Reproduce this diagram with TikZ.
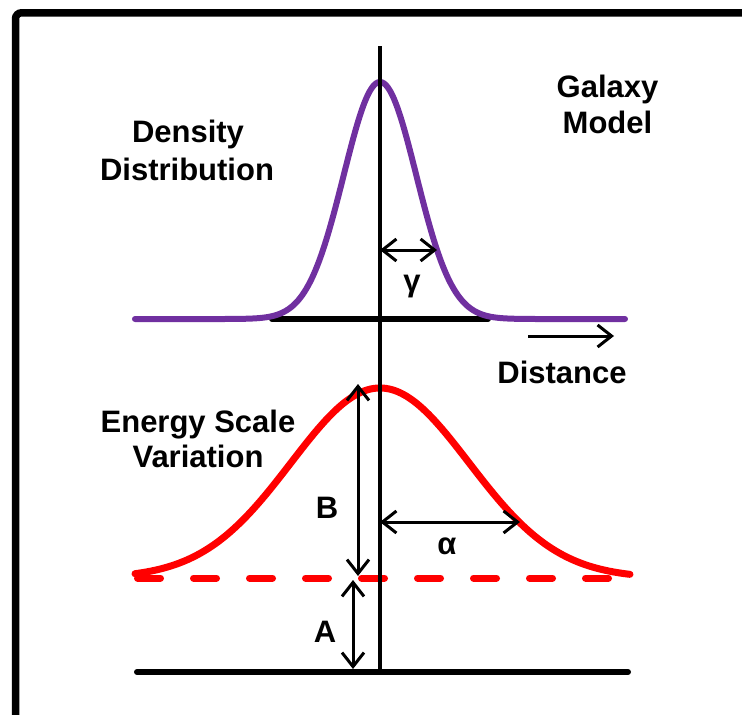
\documentclass[tikz,border=0pt]{standalone}
\usepackage{fontspec}
\setmainfont{Liberation Sans}
\usetikzlibrary{arrows.meta}
\definecolor{galpurple}{HTML}{7030A0}
\begin{document}
\begin{tikzpicture}[x=1pt,y=-1pt,
  lbl/.style={font=\fontsize{31}{36}\selectfont\bfseries, inner sep=0pt, anchor=base},
  sym/.style={font=\fontsize{31}{36}\selectfont\bfseries, inner sep=0pt},
  barb/.tip={Straight Barb[length=14pt,width=22pt]},
  dimline/.style={line width=3pt, barb-barb},
  axisline/.style={line width=3.5pt},
  baseline/.style={line width=6pt, line cap=round}]
\useasboundingbox (0,0) rectangle (742,715);
% frame (only top and left visible)
\draw[line width=7.5pt, rounded corners=6pt] (15.5,12.8) rectangle (820,800);

% coordinates
\coordinate (topB1) at (272,319);
\coordinate (topB2) at (488,319);
\coordinate (botB1) at (137,672);
\coordinate (botB2) at (628,672);
\coordinate (axTop) at (380,46);
\coordinate (axBot) at (380,672);
\coordinate (dash1) at (137.5,578);
\coordinate (dash2) at (608.5,578);
\coordinate (g1) at (380,250);
\coordinate (g2) at (437,250);
\coordinate (a1) at (380,522);
\coordinate (a2) at (520,522);
\coordinate (b1) at (358,384);
\coordinate (b2) at (358,576);
\coordinate (c1) at (353,580);
\coordinate (c2) at (353,669);
\coordinate (d1) at (528,336);
\coordinate (d2) at (614,336);

% baselines
\draw[baseline] (topB1) -- (topB2);
\draw[baseline] (botB1) -- (botB2);

% purple density curve
\draw[galpurple, line width=6pt, line cap=round, line join=round]
  plot[domain=-6.75:6.75, samples=241, smooth] ({380+36.3*\x},{319-237*exp(-0.5*\x*\x)});

% red dashed level
\draw[red, line width=7pt, line cap=round, dash pattern=on 23pt off 33pt] (dash1) -- (dash2);
% red energy curve
\draw[red, line width=7pt, line cap=round, line join=round]
  plot[domain=-2.753:2.809, samples=161, smooth] ({380+89*\x},{578-190*exp(-0.5*\x*\x)});

% vertical axis
\draw[axisline] (axTop) -- (axBot);

% dimension arrows
\draw[dimline] (g1) -- (g2);
\draw[dimline] (a1) -- (a2);
\draw[dimline] (b1) -- (b2);
\draw[dimline] (c1) -- (c2);
\draw[line width=3pt, -barb] (d1) -- (d2);

% labels
\node[lbl] (dens1) at (188,142) {Density};
\node[lbl] (dens2) at (187,180) {Distribution};
\node[lbl] (gal1) at (607.5,97) {Galaxy};
\node[lbl] (gal2) at (607.5,133) {Model};
\node[lbl] (en1) at (198,432) {Energy Scale};
\node[lbl] (en2) at (198,467) {Variation};
\node[lbl] (dist) at (562,383) {Distance};
\node[sym] (gam) at (412,287) {γ};
\node[sym] (alp) at (447,546) {α};
\node[sym] (lb) at (327,508) {B};
\node[sym] (la) at (325,632) {A};
\end{tikzpicture}
\end{document}
